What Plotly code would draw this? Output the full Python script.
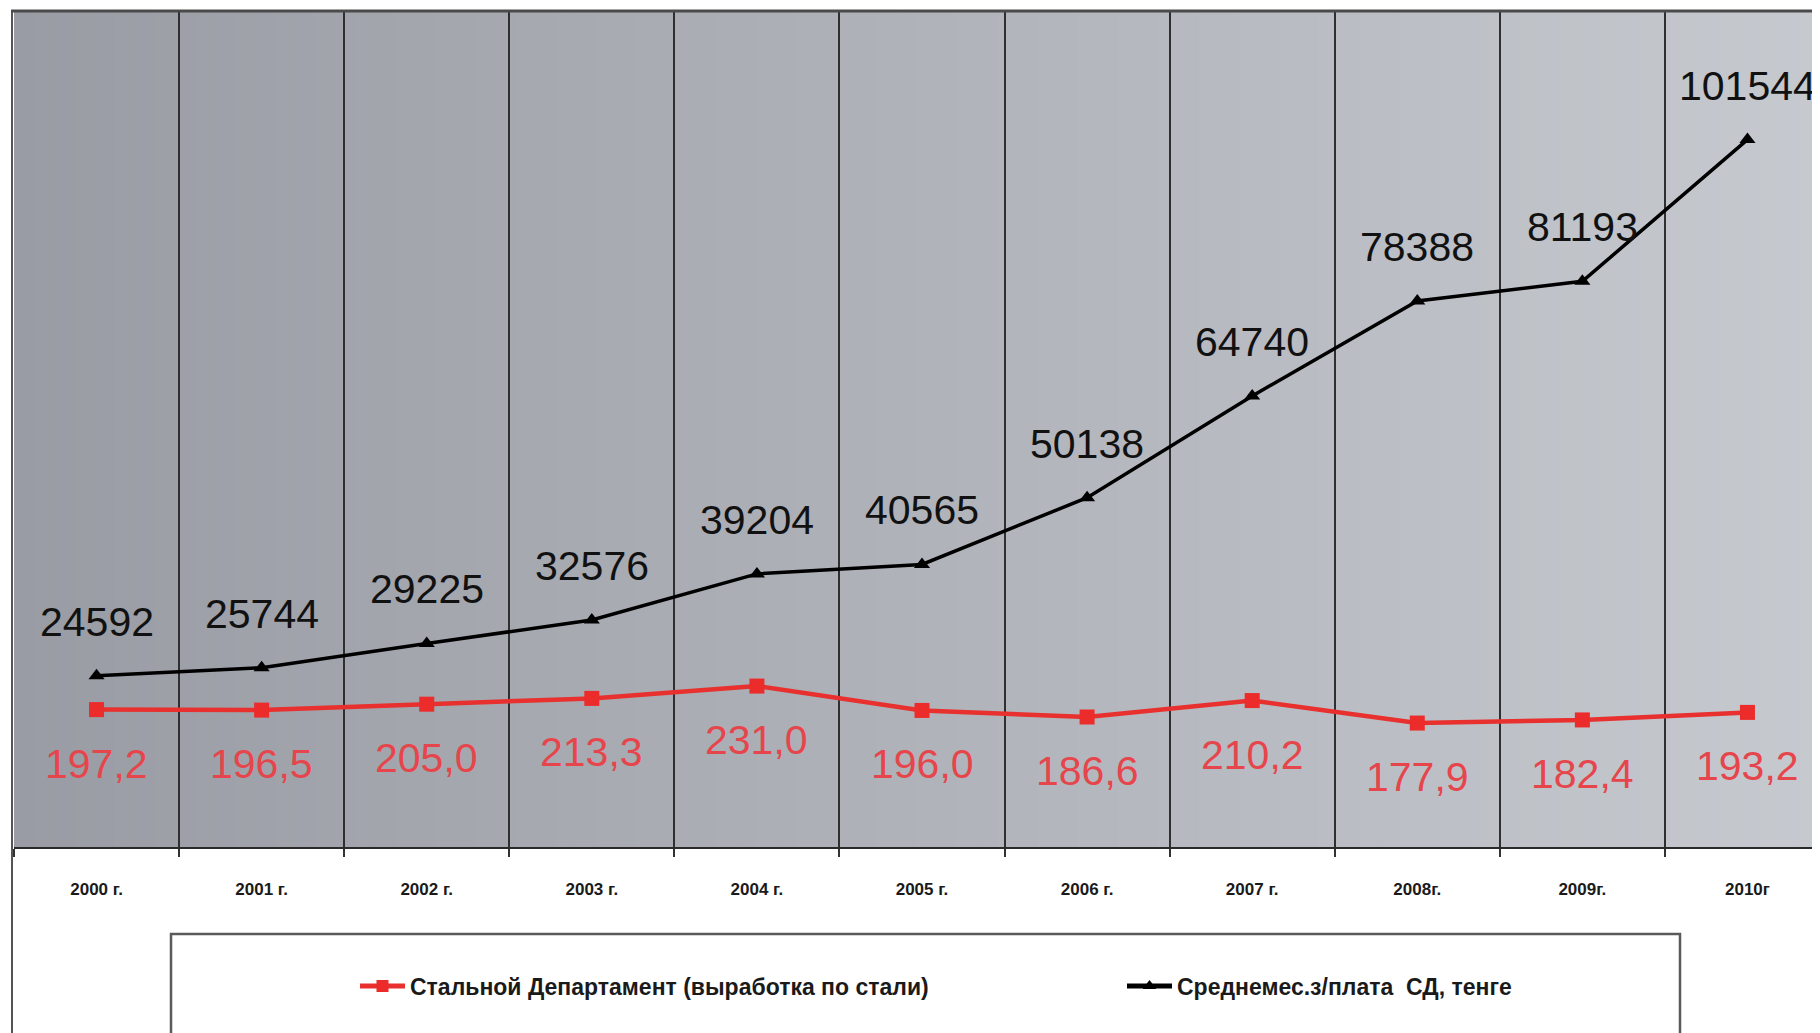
import plotly.graph_objects as go

years = ["2000 г.", "2001 г.", "2002 г.", "2003 г.", "2004 г.", "2005 г.",
         "2006 г.", "2007 г.", "2008г.", "2009г.", "2010г"]
steel = [197.2, 196.5, 205.0, 213.3, 231.0, 196.0, 186.6, 210.2, 177.9, 182.4, 193.2]
wage = [24592, 25744, 29225, 32576, 39204, 40565, 50138, 64740, 78388, 81193, 101544]
steel_name = "Стальной Департамент (выработка по стали)"
wage_name = "Среднемес.з/плата  СД, тенге"

OFF = 8  # default page body margin
W, H = 1820 - OFF, 1033 - OFF
# plot area in page pixels: x 14..1820, y 11..847
L = 14 - OFF
R = 0
T = 11 - OFF
B = 1033 - 847
pw = W - L - R
ph = H - T - B

def px2x(p):  # page px -> paper x
    return (p - OFF - L) / pw

def px2y(p):  # page px -> paper y
    return (H - B - (p - OFF)) / ph

fig = go.Figure()

fig.add_trace(go.Scatter(
    x=years, y=steel, name=steel_name, mode="lines+markers", yaxis="y2",
    line=dict(color="#e8302e", width=4.5),
    marker=dict(symbol="square", size=15, color="#ec2b2b"),
    hoverinfo="skip", legend="legend",
))
fig.add_trace(go.Scatter(
    x=years, y=wage, name=wage_name, mode="lines+markers", yaxis="y",
    line=dict(color="#000000", width=3.5),
    marker=dict(symbol="triangle-up", size=14, color="#000000"),
    hoverinfo="skip", legend="legend2",
))

annotations = []
for yr, v in zip(years, wage):
    annotations.append(dict(x=yr, y=v, xref="x", yref="y", text=str(v), showarrow=False,
                            yshift=54, font=dict(family="Liberation Sans, Arial", size=41, color="#111111")))
for yr, v in zip(years, steel):
    annotations.append(dict(x=yr, y=v, xref="x", yref="y2", text=f"{v:.1f}".replace(".", ","),
                            showarrow=False, yshift=-54,
                            font=dict(family="Liberation Sans, Arial", size=41, color="#e6454c")))

shapes = []
n = 90
c0 = (153, 156, 164)
c1 = (198, 201, 206)
for i in range(n):
    t = i / (n - 1)
    col = tuple(int(round(a + (b - a) * t)) for a, b in zip(c0, c1))
    shapes.append(dict(type="rect", xref="x domain", yref="y domain",
                       x0=i / n, x1=(i + 1) / n + 0.002, y0=0, y1=1,
                       fillcolor="rgb(%d,%d,%d)" % col, line=dict(width=0), layer="below"))
# outer chart border (left + top)
shapes.append(dict(type="line", xref="paper", yref="paper", x0=px2x(12), x1=px2x(12),
                   y0=px2y(10), y1=px2y(1045), line=dict(color="#555555", width=2)))
shapes.append(dict(type="line", xref="paper", yref="paper", x0=px2x(11), x1=1.0,
                   y0=px2y(11), y1=px2y(11), line=dict(color="#4a4a4a", width=3)))
# legend box
shapes.append(dict(type="rect", xref="paper", yref="paper", x0=px2x(171), x1=px2x(1680),
                   y0=px2y(934), y1=px2y(1045), line=dict(color="#5a5a5a", width=2.5),
                   fillcolor="rgba(0,0,0,0)"))

legend_font = dict(family="Liberation Sans, Arial", size=23, color="#1a1a1a", weight="bold")

fig.update_layout(
    width=W, height=H,
    margin=dict(l=L, r=R, t=T, b=B),
    paper_bgcolor="white",
    plot_bgcolor="rgba(0,0,0,0)",
    showlegend=True,
    legend=dict(orientation="h", x=px2x(355), xanchor="left", y=px2y(986), yanchor="middle",
                font=legend_font, bgcolor="rgba(0,0,0,0)", itemsizing="constant", itemwidth=45),
    legend2=dict(orientation="h", x=px2x(1122), xanchor="left", y=px2y(986), yanchor="middle",
                 font=legend_font, bgcolor="rgba(0,0,0,0)", itemsizing="constant", itemwidth=45),
    xaxis=dict(type="category", categoryorder="array", categoryarray=years,
               range=[-0.5, 10.5 - 10 / 165], tickson="boundaries",
               showgrid=True, gridcolor="#2f2f2f", gridwidth=1.5,
               ticks="outside", ticklen=8, tickcolor="#333333", tickwidth=1.5,
               showline=True, linecolor="#2a2a2a", linewidth=2,
               tickfont=dict(family="Liberation Sans, Arial", size=17, color="#1a1a1a", weight="bold"),
               ticklabelstandoff=26, zeroline=False, fixedrange=True),
    yaxis=dict(range=[0, 120000], showgrid=False, showticklabels=False, zeroline=False,
               showline=False, ticks=""),
    yaxis2=dict(range=[0, 1200], overlaying="y", side="right", showgrid=False,
                showticklabels=False, zeroline=False, showline=False, ticks="", visible=False),
    annotations=annotations,
    shapes=shapes,
)

fig.write_html("out.html")
